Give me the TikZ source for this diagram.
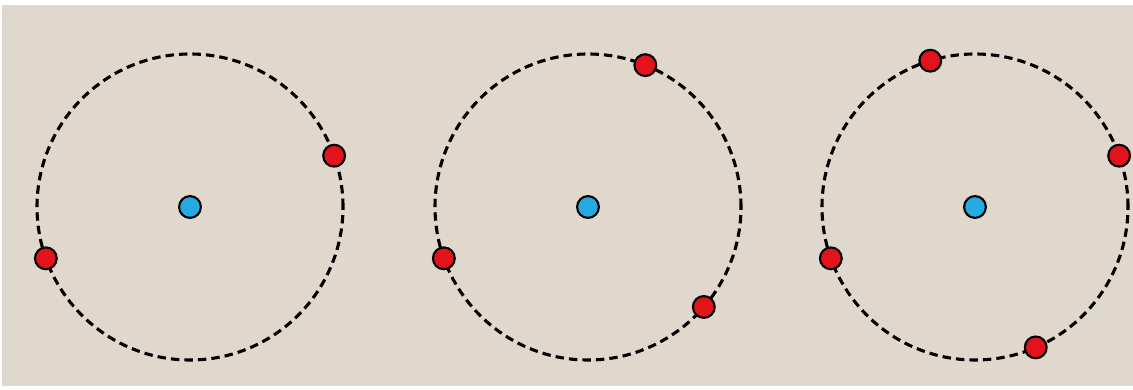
\documentclass[tikz,border=0pt]{standalone}
\usetikzlibrary{positioning,calc}
\definecolor{paper}{HTML}{E0D8CC}
\definecolor{elec}{HTML}{E3131B}
\definecolor{core}{HTML}{27A9E1}

\begin{document}
\begin{tikzpicture}[x=0.025cm,y=0.025cm,orbit/.style={draw=black,line width=2.2pt,dash pattern=on 6pt off 3.6pt},dot/.style={circle,draw=black,line width=1.5pt,inner sep=0pt,minimum size=15.5pt},electron/.style={dot,fill=elec},nucleus/.style={dot,fill=core}]
\fill[white] (0,0) rectangle (1133,389);
\fill[paper] (2,3) rectangle (1133,384);
% three rings
\foreach \n/\cx in {a/190,b/588,c/975}{
  \coordinate (\n) at (\cx,182);
  \draw[orbit] (\n) circle (153);
  \node[nucleus] (\n0) at (\n) {};
}
% electrons on each ring
\node[electron] (a1) at ($(a)+(19.6:153)$) {};
\node[electron] (a2) at ($(a)+(199.6:153)$) {};
\node[electron] (b1) at ($(b)+(68:153)$) {};
\node[electron] (b2) at ($(b)+(199.6:153)$) {};
\node[electron] (b3) at ($(b)+(-40.8:153)$) {};
\node[electron] (c1) at ($(c)+(107:153)$) {};
\node[electron] (c2) at ($(c)+(19.6:153)$) {};
\node[electron] (c3) at ($(c)+(199.6:153)$) {};
\node[electron] (c4) at ($(c)+(-66.6:153)$) {};
\end{tikzpicture}
\end{document}
